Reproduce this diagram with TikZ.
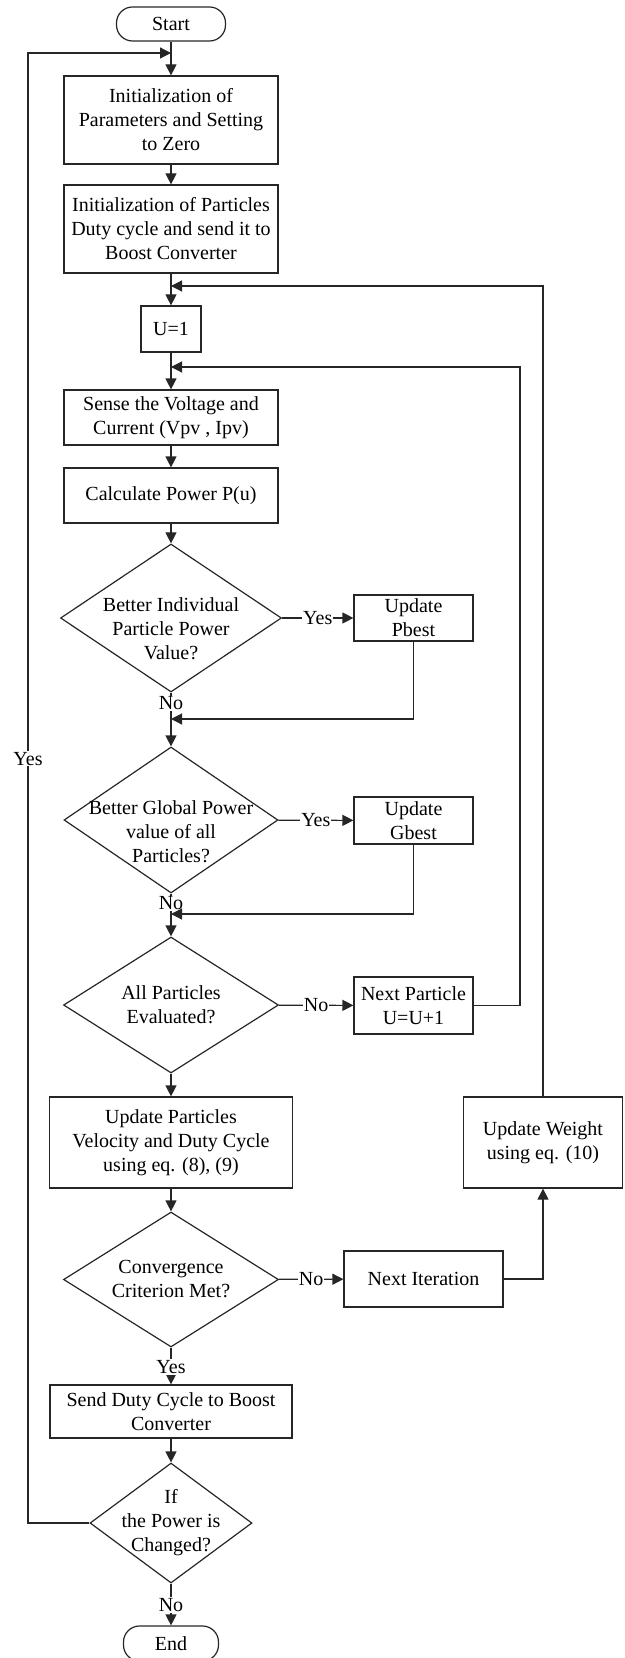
\documentclass[tikz,border=0pt]{standalone}
\usepackage{fontspec}
\setmainfont{Liberation Serif}
\usepackage{tikz}
\usetikzlibrary{shapes.geometric}
\usetikzlibrary{arrows.meta}

\tikzset{
  box/.style = {draw = black!85, line width = 0.6pt, rectangle, align = center, inner sep = 1pt},
  term/.style = {box, rounded corners = 8pt},
  query/.style = {draw = black!85, line width = 0.6pt, diamond, inner sep = 0pt},
  flow/.style = {draw = black!85, line width = 0.6pt, -{Triangle[length = 5.5pt, width = 5.5pt]}},
  tag/.style = {fill = white, inner sep = 0.5pt}
}

\begin{document}
\begin{tikzpicture}[x = 0.5pt, y = -0.5pt]
\useasboundingbox (0, 0) rectangle (625, 1658);

\node [term, minimum width = 54.5pt, minimum height = 17pt] (start) at (171, 24) {Start};
\node [box, minimum width = 107pt, minimum height = 44pt] (init) at (171, 120)
    {Initialization of\\Parameters and Setting\\to Zero};
\node [box, minimum width = 107pt, minimum height = 44pt] (initp) at (171, 229)
    {Initialization of Particles\\Duty cycle and send it to\\Boost Converter};
\node [box, minimum width = 30pt, minimum height = 23pt] (uone) at (171, 329) {U=1};
\node [box, minimum width = 107pt, minimum height = 27.5pt] (sense) at (171, 417.5)
    {Sense the Voltage and\\Current (Vpv , Ipv)};
\node [box, minimum width = 107pt, minimum height = 27.5pt] (calc) at (171, 495.5)
    {Calculate Power P(u)};

\node [query, minimum width = 110.5pt, minimum height = 74pt,
    label = {[align = center, yshift = -5.5pt]center:{Better Individual\\Particle Power\\Value?}}]
    (q1) at (171, 618) {};
\node [box, minimum width = 59.5pt, minimum height = 23pt] (pbest) at (413.5, 618) {Update\\Pbest};

\node [query, minimum width = 107pt, minimum height = 73pt,
    label = {[align = center, yshift = -6pt]center:{Better Global Power\\value of all\\Particles?}}]
    (q2) at (171, 820) {};
\node [box, minimum width = 59.5pt, minimum height = 23.5pt] (gbest) at (413.5, 820.5) {Update\\Gbest};

\node [query, minimum width = 107.5pt, minimum height = 68pt,
    label = {[align = center]center:{All Particles\\Evaluated?}}]
    (q3) at (171, 1005) {};
\node [box, minimum width = 59.5pt, minimum height = 28.5pt] (nextp) at (413.5, 1005.5)
    {Next Particle\\U=U+1};

\node [box, minimum width = 121.5pt, minimum height = 45.5pt] (upd) at (171, 1142.5)
    {Update Particles\\Velocity and Duty Cycle\\using eq. (8), (9)};
\node [box, minimum width = 79.5pt, minimum height = 45.5pt] (weight) at (543, 1142.5)
    {Update Weight\\using eq. (10)};

\node [query, minimum width = 107.5pt, minimum height = 67.5pt,
    label = {[align = center]center:{Convergence\\Criterion Met?}}]
    (q4) at (171, 1279.5) {};
\node [box, minimum width = 79.5pt, minimum height = 28pt] (nexti) at (423.5, 1279) {Next Iteration};

\node [box, minimum width = 121pt, minimum height = 26.5pt] (send) at (171, 1411.5)
    {Send Duty Cycle to Boost\\Converter};
\node [query, minimum width = 81pt, minimum height = 60pt,
    label = {[align = center]center:{If\\the Power is\\Changed?}}]
    (q5) at (171, 1523) {};
\node [term, minimum width = 47.5pt, minimum height = 17.5pt] (stop) at (171, 1643.5) {End};

\coordinate (j0) at (171, 53);
\coordinate (j1) at (171, 286);
\coordinate (j2) at (171, 367);
\coordinate (j3) at (171, 719);
\coordinate (j4) at (171, 914);
\coordinate (lrail) at (28, 0);
\coordinate (rrail) at (520, 0);

\draw [flow] (start) -- (init);
\draw [flow] (init) -- (initp);
\draw [flow] (initp) -- (uone);
\draw [flow] (uone) -- (sense);
\draw [flow] (sense) -- (calc);
\draw [flow] (calc) -- (q1);
\draw [flow] (q1) -- node [tag] {Yes} (pbest);
\draw [flow] (q1) -- node [tag, pos = 0.2] {No} (q2);
\draw [flow] (q2) -- node [tag] {Yes} (gbest);
\draw [flow] (q2) -- node [tag, pos = 0.23] {No} (q3);
\draw [flow] (q3) -- node [tag] {No} (nextp);
\draw [flow] (q3) -- (upd);
\draw [flow] (upd) -- (q4);
\draw [flow] (q4) -- node [tag] {No} (nexti);
\draw [flow] (q4) -- node [tag, pos = 0.53] {Yes} (send);
\draw [flow] (send) -- (q5);
\draw [flow] (q5) -- node [tag, pos = 0.51] {No} (stop);

\draw [flow] (pbest.south) |- (j3);
\draw [flow] (gbest.south) |- (j4);
\draw [flow] (nextp.east) -| (rrail |- j2) -- (j2);
\draw [flow] (nexti.east) -| (weight.south);
\draw [flow] (weight.north) |- (j1);
\draw [flow] (q5.west) -| node [tag, pos = 0.76] {Yes} (lrail |- j0) -- (j0);
\end{tikzpicture}
\end{document}
